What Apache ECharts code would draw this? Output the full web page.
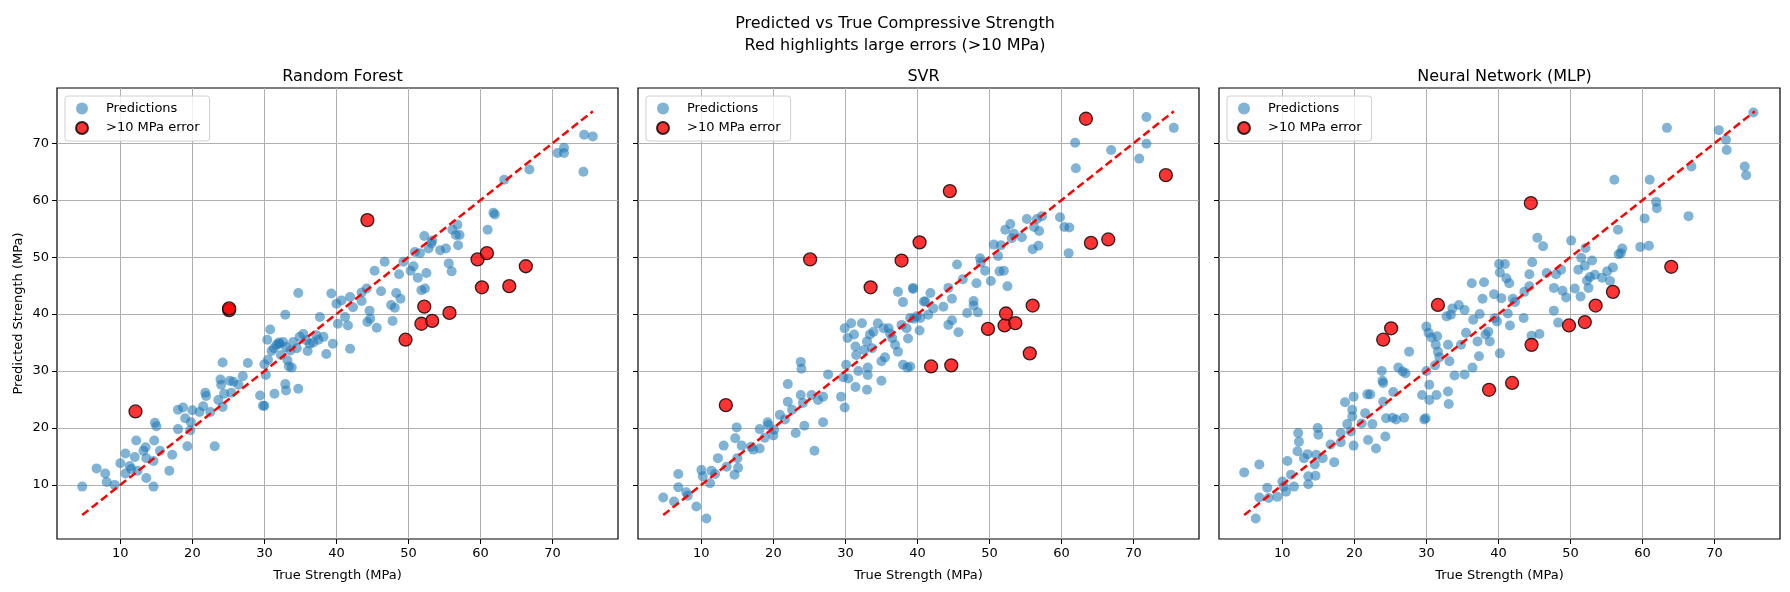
<!DOCTYPE html>
<html><head><meta charset="utf-8">
<script src="https://cdn.jsdelivr.net/npm/echarts@6/dist/echarts.min.js"></script>
<style>html,body{margin:0;padding:0;background:#fff}#c{width:1790px;height:592px}</style>
</head><body><div id="c"></div>
<script>
const panelTitles = ["Random Forest", "SVR", "Neural Network (MLP)"];
const tickValues = [10, 20, 30, 40, 50, 60, 70];
const idealLine = [[4.7, 4.7], [75.6, 75.6]];

const rfPoints = [[4.7,9.7],[6.7,12.9],[7.9,12],[8.1,10.5],[9.2,10],[10,13.8],[10.7,12],[11.3,13.3],[11.5,12.8],[10.7,15.5],[12,14.9],[12.2,17.8],[13.2,16],[13.5,16.6],[12.4,12.5],[13.6,14.7],[14.6,14.2],[14.7,17.8],[14.8,20.9],[15,20.3],[15.5,16],[14.6,9.7],[13.6,11.2],[16.8,12.5],[17.2,15.3],[18,19.8],[18,23.2],[18.7,23.6],[19,21.7],[19.3,16.8],[19.7,19.6],[19.8,21],[20,23.1],[21,22.8],[21.5,23.8],[21.8,26.2],[21.9,25.6],[22.5,22.8],[23.1,16.8],[23.6,24.9],[23.9,28.5],[24,27.6],[24.2,31.5],[24.2,23.7],[24.4,26],[25.2,28.3],[25.7,28.1],[25.4,26.2],[26.4,27.6],[27,29.1],[27.7,31.4],[29.4,25.7],[29.8,23.9],[30,23.9],[30,31.2],[30.2,29.3],[30.4,35.5],[30.8,37.3],[31.4,26],[31.3,34],[31.7,34.6],[32,35],[32.6,35.1],[32.9,39.9],[32.9,27.7],[33,26.6],[33.2,31.9],[33.4,30.8],[33.6,33.6],[33.8,30.6],[34.7,43.7],[34.7,26.9],[32.1,34.8],[33,34.2],[34,35.1],[34.9,36],[35.4,36.5],[36.3,34.8],[37.2,36.3],[37.7,39.5],[38.2,36],[38.6,33],[39.3,43.6],[39.5,34.8],[40,41.8],[40.2,38.3],[40.7,42.4],[41.2,39.5],[41.6,38],[41.9,33.9],[41.9,43],[42.3,41.2],[43.5,43.8],[43.5,42.3],[44.2,44.5],[44.3,38.6],[44.6,40.6],[44.7,39.2],[45.3,47.6],[45.6,37.6],[46.2,44],[46.7,49.2],[47.6,41.6],[47.8,38.8],[48.1,41.1],[48.3,43.7],[48.7,47],[48.9,42.7],[49.3,49.2],[50.3,47.6],[50.7,48.4],[50.9,50.9],[51.3,46.4],[51.6,50.7],[51.8,44.2],[52.2,53.7],[52.3,44.5],[52.5,47.2],[52.8,51.5],[53.2,52.4],[53.3,52.9],[54.4,51.2],[55.2,51.5],[55.6,48.9],[56,47.5],[56.1,54.8],[56.8,55.7],[56.6,53.9],[57.1,53.9],[56.9,52.1],[61,54.8],[61.8,57.8],[62,57.5],[63.3,63.6],[66.8,65.4],[70.7,68.3],[71.6,69.2],[71.6,68.3],[74.4,71.5],[75.6,71.2],[74.3,65],[30.5,32],[31,33.5],[32.3,32.8],[34.5,34],[35.8,35.4],[36.8,35],[37.5,35.5],[36,33.5]];
const rfErr = [[12.1,22.9],[25.1,40.7],[25.1,41],[44.3,56.5],[49.6,35.5],[51.8,38.3],[52.2,41.3],[53.3,38.8],[55.7,40.2],[59.6,49.6],[60.9,50.7],[60.2,44.7],[64,44.9],[66.3,48.4]];

const svrPoints = [[4.7,7.8],[6.2,7.1],[6.8,11.9],[6.8,9.6],[7.9,8.7],[8.1,8.1],[9.3,6.2],[10.7,4.1],[10,12.6],[10.2,11.5],[11.2,10.3],[11.4,12.5],[11.9,11.9],[12.3,14.7],[13.1,16.9],[13.5,13.2],[14.6,11.8],[14.7,18.2],[14.9,20.1],[15,14.7],[15.1,13],[15.6,16.9],[16.9,16.7],[17.2,16.2],[18.1,16.4],[18.1,19.8],[18.8,18.3],[19.2,21],[19.3,20.5],[20,18.7],[20.1,19.7],[20.9,22.3],[21.6,21.5],[22,27.7],[22,24.6],[22.6,23.2],[23.1,19.1],[23.8,31.6],[23.9,30.4],[23.8,25.8],[24.1,24.4],[24.3,20.4],[25.3,25.8],[25.7,16],[26.2,24.9],[26.9,25.5],[26.9,21],[27.6,29.4],[29.4,25.5],[29.7,28.9],[29.9,23.6],[29.9,37.5],[30.1,31.1],[30.4,28.7],[30.3,35.8],[30.8,38.4],[31.2,36.4],[31.4,34.3],[31.5,32.8],[31.8,30],[31.4,27.2],[32.3,38.4],[32.6,33.7],[33,35.2],[33.1,30.6],[33.1,29.3],[33,26.7],[33.4,36.4],[33.7,34],[33.9,36.9],[34.5,38.4],[35,31.7],[35,28.3],[35.3,37.5],[35.5,32.4],[36,37.5],[36.2,36.6],[36.5,35.8],[36.9,34.6],[37.3,33.4],[37.3,43.9],[37.8,38.1],[38,42.1],[38,31.1],[38.5,37.5],[38.6,30.6],[38.7,35.7],[39.4,44.4],[39.5,39.2],[39.9,39.6],[40.3,37.1],[40.9,42.2],[39.4,44.6],[39,39.3],[39,30.8],[40.4,39.3],[41.1,42.2],[41.5,39.9],[41.8,43.7],[42.2,41],[43.6,41.3],[44.3,44.6],[44.8,42.7],[44.3,38.1],[44.8,38.9],[45.5,48.7],[45.7,36.8],[46.3,46.1],[46.9,40.2],[47.8,42.3],[47.8,41.5],[48.2,45.4],[48.4,40.3],[48.7,49.8],[48.8,49],[49.4,47.6],[50.2,45.8],[50.6,52.2],[51.2,50.2],[51.4,47.5],[51.6,52.1],[52,47.6],[52.5,44.9],[52.2,54.8],[52.9,55.8],[53.1,53.3],[53.4,54.1],[54.5,53.5],[55.2,56.7],[56,51.4],[56.2,55.3],[56.6,56.7],[56.8,52],[56.9,54.6],[57.3,57.2],[59.8,57],[60.4,55.3],[61.1,55.2],[61,50.7],[61.9,70.1],[62,65.6],[66.9,68.8],[70.8,67.3],[71.8,69.9],[71.8,74.6],[75.6,72.7]];
const svrErr = [[13.4,24],[25.1,49.6],[33.5,44.7],[37.8,49.4],[40.3,52.6],[44.5,61.6],[41.9,30.8],[44.7,31],[49.8,37.4],[52.1,38],[52.3,40.1],[53.6,38.4],[56,41.5],[55.6,33.1],[63.4,74.3],[64.1,52.5],[66.5,53.1],[74.5,64.4]];

const mlpPoints = [[4.7,12.2],[6.3,4.1],[6.8,13.6],[6.8,7.8],[7.9,9.5],[8.1,7.7],[9.3,7.9],[10,10.6],[10.2,9.7],[10.5,8.8],[10.7,14.2],[11.2,11.8],[11.6,9.7],[12.1,15.9],[12.2,19.1],[12.3,17.6],[13,14.7],[13.5,15.4],[13.6,11.5],[13.6,10.1],[14.5,13.6],[14.6,11.6],[14.7,15.3],[14.9,20],[15,18.8],[15.6,14.7],[16.7,17.1],[17.2,14],[18.1,19.1],[18.1,17.5],[18.7,24.5],[19,20.7],[19.5,19.4],[19.7,23.2],[19.7,22],[19.9,25.5],[19.9,16.9],[21,20.8],[21.5,22.6],[21.8,25.9],[21.9,17.9],[22.2,25.9],[22.5,20.7],[23,16.4],[23.8,30],[23.9,28.3],[24,27.9],[24,24.6],[24.3,18.5],[24.4,21.7],[25.3,21.8],[25.4,26.3],[25.8,21.5],[26.1,30.6],[26.7,29.9],[26.9,21.8],[27.1,29.6],[27.6,33.4],[29.4,25.8],[29.7,21.5],[29.9,21.7],[30,30],[30,37.8],[30.3,36.7],[30.4,27.6],[30.4,24.9],[30.7,35.9],[31.2,31],[31.3,34.6],[31.4,25.8],[31.5,36.1],[31.6,33.4],[31.8,32.4],[32.8,39.6],[33,34.6],[33,26.4],[33.1,24.2],[33.2,31.7],[33.4,39.9],[33.6,41],[33.9,29.2],[34.5,41.6],[34.8,34.6],[35.3,29.4],[35.3,40.7],[35.5,36.7],[36.3,45.4],[36.4,30.6],[36.5,39],[37.1,35.2],[37.3,32.6],[37.4,40],[37.8,42.7],[38,45.6],[38.2,36.4],[38.6,36.9],[39.4,43.5],[39.5,39.3],[40.1,48.8],[40.2,33.1],[40.4,42.8],[40.9,48.8],[41.1,46.3],[38.8,35.2],[39.8,38.7],[40.2,47.3],[41.3,40.1],[41.5,45.4],[41.6,38],[42,42.7],[42.3,42.1],[43.5,39.3],[43.6,43.9],[44.3,47],[44.3,44.9],[44.6,36.2],[44.7,49.1],[45.4,53.4],[45.7,36.5],[46.2,51.9],[46.7,47.2],[47.7,44.6],[47.7,40.6],[48,47],[48.3,38.5],[48.7,47.8],[48.9,44.1],[49.4,42.9],[50.1,52.9],[50.6,44.5],[51.1,47.8],[51.4,43.1],[51.5,49.9],[52,48.5],[52.1,51.6],[52.3,45.9],[52.5,44.6],[52.7,46.5],[53,49.4],[53.4,46.9],[54.4,46.4],[55.1,47.5],[55.5,45.8],[55.9,48.2],[56.1,63.6],[56.6,54.8],[56.7,50.5],[57,50.7],[57.2,51.5],[59.7,51.8],[60.3,56.8],[60.9,52],[61,63.6],[61.9,59.7],[62,58.6],[63.4,72.7],[66.4,57.2],[66.8,65.9],[70.6,72.3],[71.6,70.6],[71.7,68.8],[74.2,65.9],[74.4,64.4],[75.4,75.4]];
const mlpErr = [[24,35.5],[25.1,37.5],[31.6,41.6],[38.7,26.7],[41.9,27.9],[44.5,59.5],[44.6,34.6],[49.8,38],[52,38.6],[53.5,41.5],[55.9,43.9],[64,48.3]];

const panelData = [[rfPoints, rfErr], [svrPoints, svrErr], [mlpPoints, mlpErr]];
const gridLefts = [57, 638, 1219];
const GW = 561, GT = 88, GH = 451;
const font = 'DejaVu Sans';
const gridColor = '#b0b0b0';

const grids = [], xAxes = [], yAxes = [], series = [], legends = [], titles = [];
titles.push({text: 'Predicted vs True Compressive Strength\nRed highlights large errors (>10 MPa)', left: 'center', top: 8,
  textStyle: {fontFamily: font, fontSize: 16, fontWeight: 'normal', color: '#000', lineHeight: 22}});
panelData.forEach((pd, i) => {
  const L = gridLefts[i];
  grids.push({left: L, top: GT, width: GW, height: GH, show: true, borderColor: '#000', borderWidth: 1.2, backgroundColor: 'transparent'});
  titles.push({text: panelTitles[i], left: L + GW / 2, top: 64, textAlign: 'center',
    textStyle: {fontFamily: font, fontSize: 16, fontWeight: 'normal', color: '#000'}});
  xAxes.push({gridIndex: i, type: 'value', min: 1.2, max: 79.1, name: 'True Strength (MPa)', nameLocation: 'middle', nameGap: 30,
    nameTextStyle: {fontFamily: font, fontSize: 13, color: '#000'},
    axisLine: {show: false}, splitLine: {show: false},
    axisTick: {show: true, customValues: tickValues, length: 5, lineStyle: {color: '#000'}},
    axisLabel: {customValues: tickValues, fontFamily: font, fontSize: 13, color: '#000', margin: 8}});
  yAxes.push({gridIndex: i, type: 'value', min: 0.5, max: 79.7, name: i === 0 ? 'Predicted Strength (MPa)' : '', nameLocation: 'middle', nameGap: 32,
    nameTextStyle: {fontFamily: font, fontSize: 13, color: '#000'},
    axisLine: {show: false}, splitLine: {show: false},
    axisTick: {show: true, customValues: tickValues, length: 5, lineStyle: {color: '#000'}},
    axisLabel: {show: i === 0, customValues: tickValues, fontFamily: font, fontSize: 13, color: '#000', margin: 8}});
  const gridMarks = tickValues.map(v => ({xAxis: v})).concat(tickValues.map(v => ({yAxis: v})));
  series.push({type: 'scatter', name: 'Predictions', xAxisIndex: i, yAxisIndex: i, data: pd[0], symbolSize: 10, z: 2,
    itemStyle: {color: 'rgba(31,119,180,0.7)'},
    markLine: {silent: true, symbol: 'none', label: {show: false}, animation: false, z: 1,
      lineStyle: {color: gridColor, type: 'solid', width: 1}, data: gridMarks}});
  series.push({type: 'line', xAxisIndex: i, yAxisIndex: i, data: idealLine, symbol: 'none', z: 3, silent: true,
    lineStyle: {color: '#ff0000', type: [8, 4], width: 2.5}});
  series.push({type: 'scatter', name: '>10 MPa error', xAxisIndex: i, yAxisIndex: i, data: pd[1], symbolSize: 13, z: 4,
    itemStyle: {color: '#ff0000', borderColor: '#000', borderWidth: 1.3}});
  legends.push({left: L + 8, top: GT + 8, orient: 'vertical', itemGap: 6, itemWidth: 14, itemHeight: 12,
    data: ['Predictions', '>10 MPa error'], borderColor: '#d0d0d0', borderWidth: 1, borderRadius: 3,
    backgroundColor: 'rgba(255,255,255,0.8)', padding: [6, 10, 6, 10],
    textStyle: {fontFamily: font, fontSize: 13, color: '#000', padding: [0, 0, 0, 12]}});
});

const chart = echarts.init(document.getElementById('c'));
chart.setOption({animation: false, backgroundColor: '#fff', title: titles, grid: grids, xAxis: xAxes, yAxis: yAxes, legend: legends, series: series});
</script></body></html>
